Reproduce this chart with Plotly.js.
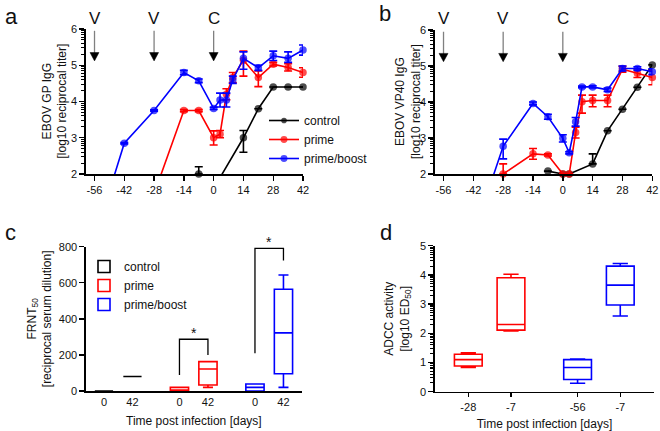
<!DOCTYPE html>
<html>
<head>
<meta charset="utf-8">
<script src="https://cdn.plot.ly/plotly-3.0.1.min.js"></script>
<style>html,body{margin:0;padding:0;background:#fff;}#chart{width:660px;height:431px;}</style>
</head>
<body>
<div id="chart"></div>
<script>
// ---------- Panel a: EBOV GP IgG (log10 reciprocal titer) ----------
const aControlDays = [-7, 0, 3, 14, 21, 28, 35, 42];
const aControlVals = [2.0, 1.9, 1.9, 3.0, 3.8, 4.4, 4.4, 4.4];
const aControlErrUp = [0.2, 0, 0, 0.2, 0, 0, 0, 0];
const aControlErrDn = [0, 0, 0, 0.4, 0, 0, 0, 0];

const aPrimeDays = [-28, -14, -7, 0, 3, 6, 9, 14, 21, 28, 35, 42];
const aPrimeVals = [1.45, 3.75, 3.75, 3.0, 3.1, 4.2, 4.66, 5.14, 4.66, 5.03, 4.94, 4.8];
const aPrimeErrUp = [0, 0.03, 0.03, 0.19, 0.1, 0.15, 0.14, 0.25, 0.18, 0.05, 0.1, 0.13];
const aPrimeErrDn = [0, 0.03, 0.03, 0.2, 0.1, 0.15, 0.14, 0.44, 0.25, 0.05, 0.1, 0.13];

const aBoostDays = [-56, -42, -28, -14, -7, 0, 3, 6, 9, 14, 21, 28, 35, 42];
const aBoostVals = [0.2, 2.85, 3.75, 4.8, 4.57, 3.81, 4.04, 4.04, 4.6, 5.19, 4.93, 5.26, 5.19, 5.42];
const aBoostErrUp = [0, 0.02, 0.02, 0.06, 0.05, 0.03, 0.19, 0.19, 0.1, 0.18, 0.07, 0.13, 0.18, 0.14];
const aBoostErrDn = [0, 0.02, 0.02, 0.06, 0.05, 0.03, 0.19, 0.19, 0.1, 0.3, 0.07, 0.13, 0.11, 0.14];

// ---------- Panel b: EBOV VP40 IgG ----------
const bControlDays = [-7, 0, 3, 14, 21, 28, 35, 42];
const bControlVals = [2.08, 2.0, 2.0, 2.28, 3.2, 3.8, 4.41, 5.03];
const bControlErrUp = [0, 0, 0, 0.28, 0, 0, 0, 0];
const bControlErrDn = [0, 0, 0, 0, 0, 0, 0, 0];

const bPrimeDays = [-28, -14, -7, 0, 3, 6, 9, 14, 21, 28, 35, 42];
const bPrimeVals = [2.0, 2.56, 2.53, 2.0, 2.0, 3.15, 4.01, 4.04, 4.04, 4.91, 4.8, 4.68];
const bPrimeErrUp = [0.28, 0.15, 0.03, 0, 0, 0.15, 0.18, 0.15, 0.15, 0.08, 0.12, 0.2];
const bPrimeErrDn = [0, 0.15, 0.03, 0, 0, 0.15, 0.32, 0.17, 0.17, 0.08, 0.12, 0.2];

const bBoostDays = [-42, -28, -14, -7, 0, 3, 6, 9, 14, 21, 28, 35, 42];
const bBoostVals = [0.3, 2.77, 3.96, 3.59, 2.99, 2.59, 3.45, 4.42, 4.42, 4.34, 4.93, 4.93, 4.84];
const bBoostErrUp = [0, 0.2, 0.04, 0.07, 0.1, 0.03, 0.12, 0.02, 0.03, 0.05, 0.07, 0.05, 0.08];
const bBoostErrDn = [0, 0.35, 0.04, 0.07, 0.1, 0.03, 0.12, 0.02, 0.03, 0.05, 0.07, 0.05, 0.08];

const timeTicks = [-56, -42, -28, -14, 0, 14, 28, 42];
const vaccineDays = [-56, -28];
const challengeDay = [0];

// ---------- Panel c: FRNT50 box plots ----------
const cTickLabels = ['0', '42', '0', '42', '0', '42'];
const cControlPos = [0, 1];
const cControlLow = [0, 80], cControlQ1 = [0, 80], cControlMed = [0, 80], cControlQ3 = [0, 80], cControlHigh = [0, 80];
const cPrimePos = [2.65, 3.65];
const cPrimeLow = [0, 20], cPrimeQ1 = [0, 33], cPrimeMed = [4, 122], cPrimeQ3 = [20, 163], cPrimeHigh = [20, 163];
const cBoostPos = [5.3, 6.3];
const cBoostLow = [0, 20], cBoostQ1 = [0, 96], cBoostMed = [20, 322], cBoostQ3 = [39, 564], cBoostHigh = [39, 643];

// ---------- Panel d: ADCC activity ----------
const dTickLabels = ['-28', '-7', '-56', '-7'];
const dPrimePos = [0, 1];
const dPrimeLow = [0.83, 2.08], dPrimeQ1 = [0.88, 2.11], dPrimeMed = [1.1, 2.3], dPrimeQ3 = [1.28, 3.9], dPrimeHigh = [1.33, 4.02];
const dBoostPos = [2.56, 3.56];
const dBoostLow = [0.29, 2.59], dBoostQ1 = [0.42, 2.97], dBoostMed = [0.83, 3.65], dBoostQ3 = [1.1, 4.3], dBoostHigh = [1.12, 4.39];

// ---------- styling ----------
const RED = '#ff0000', BLUE = '#0000ff', BLACK = '#000000';
const FONT = 'Liberation Sans, Arial, sans-serif';
const W = 660, H = 431;
const px = v => v / W;
const py = v => 1 - v / H;

function logMinor(lo, hi) {
  const out = [];
  for (let k = lo; k < hi; k++) for (let m = 2; m <= 9; m++) out.push(k + Math.log10(m));
  return out;
}

function lineSeries(days, vals, up, dn, color, name, xa, ya, showlegend) {
  return {
    type: 'scatter', mode: 'lines+markers', name: name, x: days, y: vals,
    xaxis: xa, yaxis: ya, showlegend: showlegend, legend: 'legend', cliponaxis: false,
    line: {color: color, width: 1.6},
    marker: {color: color, size: vals.map(v => v >= 2 ? 7.5 : 0), line: {width: 0}},
    error_y: {type: 'data', symmetric: false, array: up, arrayminus: dn, color: color, thickness: 1.6, width: 4},
    hoverinfo: 'x+y'
  };
}

function boxSeries(pos, low, q1, med, q3, high, color, name, xa, ya, showlegend, width) {
  return {
    type: 'box', name: name, x: pos, lowerfence: low, q1: q1, median: med, q3: q3, upperfence: high,
    xaxis: xa, yaxis: ya, showlegend: showlegend, legend: 'legend2',
    line: {color: color, width: 1.6}, fillcolor: 'rgba(0,0,0,0)', width: width,
    whiskerwidth: 0.55, boxpoints: false, hoverinfo: 'y'
  };
}

const traces = [
  lineSeries(aControlDays, aControlVals, aControlErrUp, aControlErrDn, BLACK, 'control', 'x', 'y', true),
  lineSeries(aPrimeDays, aPrimeVals, aPrimeErrUp, aPrimeErrDn, RED, 'prime', 'x', 'y', true),
  lineSeries(aBoostDays, aBoostVals, aBoostErrUp, aBoostErrDn, BLUE, 'prime/boost', 'x', 'y', true),
  lineSeries(bControlDays, bControlVals, bControlErrUp, bControlErrDn, BLACK, 'control', 'x2', 'y2', false),
  lineSeries(bPrimeDays, bPrimeVals, bPrimeErrUp, bPrimeErrDn, RED, 'prime', 'x2', 'y2', false),
  lineSeries(bBoostDays, bBoostVals, bBoostErrUp, bBoostErrDn, BLUE, 'prime/boost', 'x2', 'y2', false),
  boxSeries(cControlPos, cControlLow, cControlQ1, cControlMed, cControlQ3, cControlHigh, BLACK, 'control', 'x3', 'y3', true, 0.64),
  boxSeries(cPrimePos, cPrimeLow, cPrimeQ1, cPrimeMed, cPrimeQ3, cPrimeHigh, RED, 'prime', 'x3', 'y3', true, 0.64),
  boxSeries(cBoostPos, cBoostLow, cBoostQ1, cBoostMed, cBoostQ3, cBoostHigh, BLUE, 'prime/boost', 'x3', 'y3', true, 0.64),
  boxSeries(dPrimePos, dPrimeLow, dPrimeQ1, dPrimeMed, dPrimeQ3, dPrimeHigh, RED, 'prime', 'x4', 'y4', false, 0.65),
  boxSeries(dBoostPos, dBoostLow, dBoostQ1, dBoostMed, dBoostQ3, dBoostHigh, BLUE, 'prime/boost', 'x4', 'y4', false, 0.65)
];

const tickFont = {family: FONT, size: 11, color: '#111'};
const titleFont = {family: FONT, size: 12, color: '#111'};
const baseAxis = {
  showline: true, linecolor: BLACK, linewidth: 1.6, showgrid: false, zeroline: false,
  ticks: 'outside', ticklen: 5, tickwidth: 1.4, tickcolor: BLACK, tickfont: tickFont, fixedrange: true
};

function timeAxis(domain, anchor) {
  return Object.assign({}, baseAxis, {domain: domain, anchor: anchor, range: [-60, 42],
    tickmode: 'array', tickvals: timeTicks, ticktext: timeTicks.map(String)});
}
function logAxis(domain, anchor, range) {
  return Object.assign({}, baseAxis, {domain: domain, anchor: anchor, range: range,
    tickmode: 'linear', tick0: 0, dtick: 1,
    minor: {tickmode: 'array', tickvals: logMinor(range[0], range[1]), ticks: 'outside', ticklen: 3, tickwidth: 1, tickcolor: BLACK}});
}

const annotations = [];
const shapes = [];
function addArrows(xref, yref, days, label) {
  days.forEach(d => {
    annotations.push({xref: xref, yref: 'paper', x: d, y: py(19), text: label, showarrow: false,
      font: {family: FONT, size: 17, color: '#111'}, xanchor: 'center', yanchor: 'middle'});
    // grey shaft
    shapes.push({type: 'line', xref: xref, yref: yref, x0: d, x1: d, y0: 5.95, y1: 5.3,
      line: {color: '#808080', width: 1.3}});
    // black arrow head
    shapes.push({type: 'path', xref: xref, yref: yref,
      path: `M ${d - 2.1},5.35 L ${d + 2.1},5.35 L ${d},5.12 Z`,
      fillcolor: BLACK, line: {color: BLACK, width: 0.5}});
  });
}
addArrows('x', 'y', vaccineDays, 'V');
addArrows('x', 'y', challengeDay, 'C');
addArrows('x2', 'y2', vaccineDays, 'V');
addArrows('x2', 'y2', challengeDay, 'C');

// y-axis titles for the time-course panels
[['EBOV GP IgG<br>[log10 reciprocal titer]', 55, 101.5],
 ['EBOV VP40 IgG<br>[log10 reciprocal titer]', 408, 102]].forEach(t => {
  annotations.push({xref: 'paper', yref: 'paper', x: px(t[1]), y: py(t[2]), text: t[0], textangle: -90,
    showarrow: false, font: titleFont, xanchor: 'center', yanchor: 'middle'});
});

// panel letters
[['a', 11, 17], ['b', 385, 14], ['c', 10, 232], ['d', 386, 232]].forEach(p => {
  annotations.push({xref: 'paper', yref: 'paper', x: px(p[1]), y: py(p[2]), text: p[0], showarrow: false,
    font: {family: FONT, size: 22, color: '#111'}, xanchor: 'center', yanchor: 'middle'});
});

// significance brackets (panel c)
const sigPairs = [
  {x0: cPrimePos[0], x1: cPrimePos[1], yl: 89, yr: 200, yt: 287},
  {x0: cBoostPos[0], x1: cBoostPos[1], yl: 209, yr: 723, yt: 791}
];
sigPairs.forEach(s => {
  shapes.push({type: 'path', xref: 'x3', yref: 'y3',
    path: `M ${s.x0},${s.yl} L ${s.x0},${s.yt} L ${s.x1},${s.yt} L ${s.x1},${s.yr}`,
    line: {color: BLACK, width: 1.3}});
  annotations.push({xref: 'x3', yref: 'y3', x: (s.x0 + s.x1) / 2, y: s.yt, text: '*', showarrow: false,
    font: {family: FONT, size: 14, color: '#111'}, xanchor: 'center', yanchor: 'bottom', yshift: -4});
});

const layout = {
  width: W, height: H, margin: {l: 0, r: 0, t: 0, b: 0},
  paper_bgcolor: '#fff', plot_bgcolor: '#fff', showlegend: true, boxmode: 'overlay',
  font: {family: FONT, size: 12, color: '#111'},
  xaxis: timeAxis([px(86), px(303)], 'y'),
  yaxis: logAxis([py(174), py(29)], 'x', [2, 6]),
  xaxis2: timeAxis([px(435), px(652.3)], 'y2'),
  yaxis2: logAxis([py(174), py(30)], 'x2', [2, 6]),
  xaxis3: Object.assign({}, baseAxis, {domain: [px(86), px(301.7)], anchor: 'y3', range: [-0.63, 6.94],
    tickmode: 'array', tickvals: cControlPos.concat(cPrimePos, cBoostPos), ticktext: cTickLabels, ticks: '',
    title: {text: 'Time post infection [days]', font: titleFont, standoff: 10}}),
  yaxis3: Object.assign({}, baseAxis, {domain: [py(391), py(246.7)], anchor: 'x3', range: [0, 800],
    tickmode: 'linear', tick0: 0, dtick: 200,
    title: {text: 'FRNT<sub>50</sub><br>[reciprocal serum dilution]', font: titleFont, standoff: 4}}),
  xaxis4: Object.assign({}, baseAxis, {domain: [px(435), px(654)], anchor: 'y4', range: [-0.78, 4.35],
    tickmode: 'array', tickvals: dPrimePos.concat(dBoostPos), ticktext: dTickLabels, ticklen: 4,
    title: {text: 'Time post infection [days]', font: titleFont, standoff: 9}}),
  yaxis4: Object.assign(logAxis([py(391.7), py(245.7)], 'x4', [0, 5]),
    {title: {text: 'ADCC activity<br>[log10 ED<sub>50</sub>]', font: titleFont, standoff: 8}}),
  legend: {x: px(264), y: py(106), xanchor: 'left', yanchor: 'top', bgcolor: 'rgba(0,0,0,0)',
    font: {family: FONT, size: 12, color: '#111'}, itemwidth: 30, tracegroupgap: 0},
  legend2: {x: px(84), y: py(252), xanchor: 'left', yanchor: 'top', bgcolor: 'rgba(0,0,0,0)',
    font: {family: FONT, size: 12, color: '#111'}, itemwidth: 30, tracegroupgap: 0},
  annotations: annotations,
  shapes: shapes
};

Plotly.newPlot('chart', traces, layout, {displayModeBar: false, staticPlot: true});
</script>
</body>
</html>
